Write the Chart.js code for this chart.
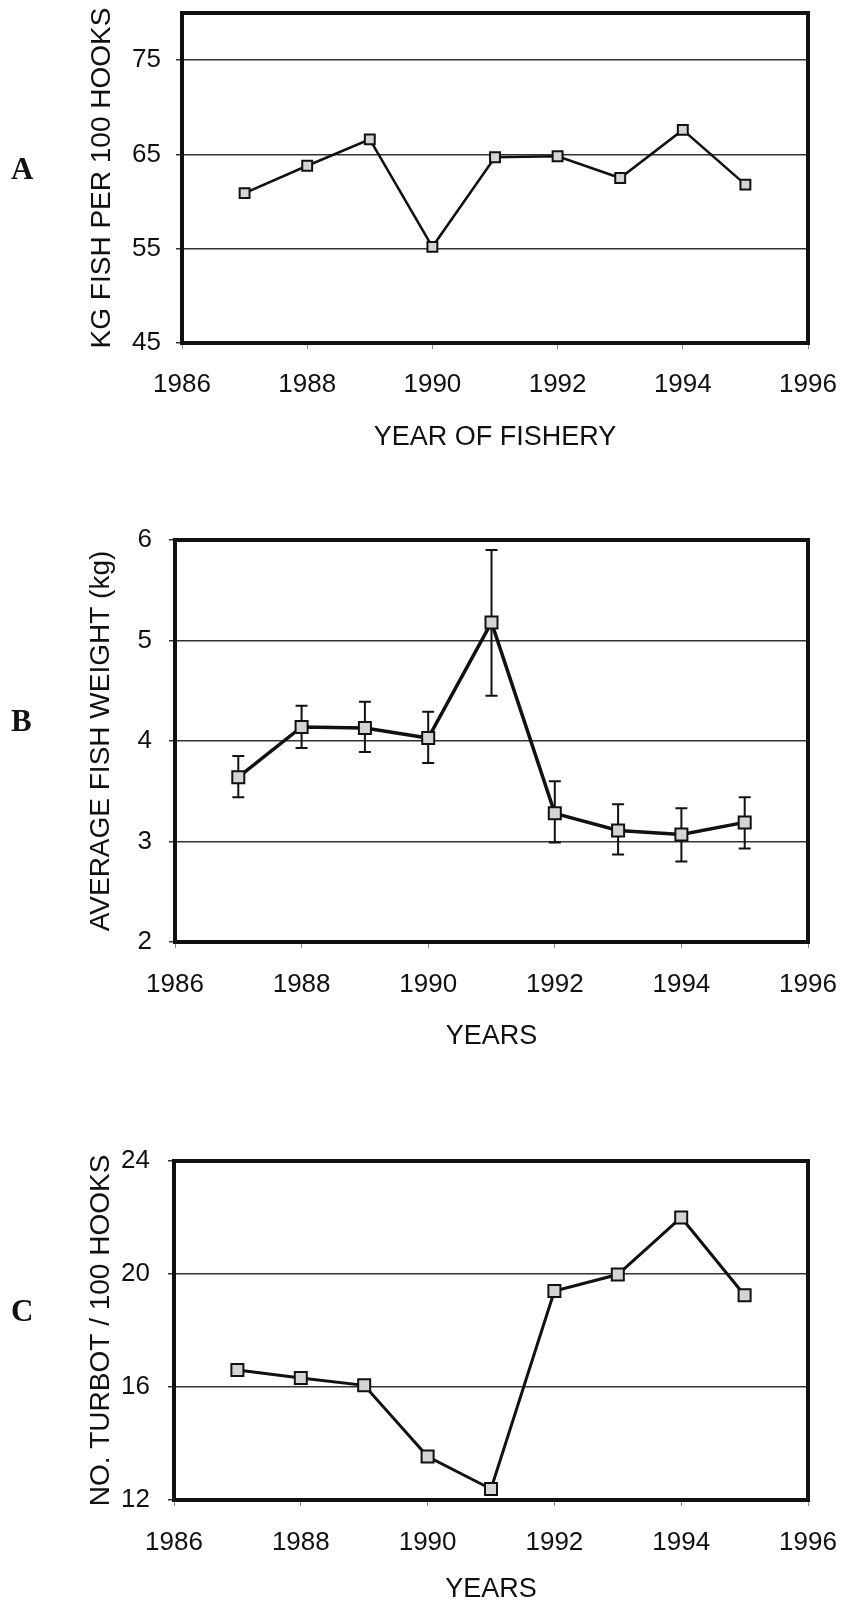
<!DOCTYPE html>
<html>
<head>
<meta charset="utf-8">
<title>Turbot longline fishery 1987-1995</title>
<script src="https://cdn.jsdelivr.net/npm/chart.js@4.4.1/dist/chart.umd.min.js"></script>
<style>
  body { margin: 0; background: #fff; }
  #page { position: relative; width: 847px; height: 1606px; overflow: hidden; background: #fff; }
  #page canvas { position: absolute; left: 0; }
  .panel-letter {
    position: absolute;
    font-family: "Liberation Serif", "DejaVu Serif", serif;
    font-weight: bold;
    font-size: 31px;
    line-height: 31px;
    color: #111;
  }
</style>
</head>
<body>
<div id="page">
  <canvas id="chartA" width="847" height="470" style="top:0px"></canvas>
  <canvas id="chartB" width="847" height="590" style="top:470px"></canvas>
  <canvas id="chartC" width="847" height="546" style="top:1060px"></canvas>
  <div class="panel-letter" style="left:11px; top:153px">A</div>
  <div class="panel-letter" style="left:11px; top:705px">B</div>
  <div class="panel-letter" style="left:11px; top:1295px">C</div>
</div>

<script>
// Data
const years = [1987, 1988, 1989, 1990, 1991, 1992, 1993, 1994, 1995];
const xTicks = [1986, 1988, 1990, 1992, 1994, 1996];

// A - kg fish per 100 hooks
const kgPer100A = [60.9, 63.8, 66.6, 55.2, 64.7, 64.8, 62.5, 67.6, 61.8];
const yTicksA = [45, 55, 65, 75];

// B - average fish weight with error bars
const weightB = [3.64, 4.14, 4.13, 4.03, 5.18, 3.28, 3.11, 3.07, 3.19];
const weightLowB = [3.44, 3.93, 3.89, 3.78, 4.45, 2.99, 2.87, 2.80, 2.93];
const weightHighB = [3.85, 4.35, 4.39, 4.29, 5.90, 3.60, 3.37, 3.33, 3.44];
const yTicksB = [2, 3, 4, 5, 6];

// C - number of turbot per 100 hooks
const turbotC = [16.6, 16.32, 16.06, 13.54, 12.39, 19.4, 19.98, 22.0, 19.25];
const yTicksC = [12, 16, 20, 24];

const fontFamily = '"Liberation Sans", Arial, sans-serif';
const inkColor = "#111";

// Thick box round the plot area
const framePlugin = {
  id: "frame",
  afterDraw(chart) {
    const { ctx, chartArea } = chart;
    ctx.save();
    ctx.strokeStyle = inkColor;
    ctx.lineWidth = 4;
    ctx.strokeRect(chartArea.left, chartArea.top, chartArea.right - chartArea.left, chartArea.bottom - chartArea.top);
    ctx.restore();
  },
};

// Vertical error bars with caps, drawn through the chart scales
const errorBarPlugin = {
  id: "errorBars",
  beforeDatasetsDraw(chart, args, opts) {
    if (!opts || !opts.low) return;
    const { ctx } = chart;
    const x = chart.scales.x;
    const y = chart.scales.y;
    ctx.save();
    ctx.strokeStyle = inkColor;
    ctx.lineWidth = 2;
    years.forEach((yr, i) => {
      const px = x.getPixelForValue(yr);
      const top = y.getPixelForValue(opts.high[i]);
      const bot = y.getPixelForValue(opts.low[i]);
      ctx.beginPath();
      ctx.moveTo(px, top);
      ctx.lineTo(px, bot);
      ctx.moveTo(px - 6, top);
      ctx.lineTo(px + 6, top);
      ctx.moveTo(px - 6, bot);
      ctx.lineTo(px + 6, bot);
      ctx.stroke();
    });
    ctx.restore();
  },
};

function createPanel(canvasId, cfg) {
  const points = years.map((yr, i) => ({ x: yr, y: cfg.values[i] }));

  return new Chart(document.getElementById(canvasId), {
    type: "line",
    data: {
      datasets: [
        {
          data: points,
          borderColor: inkColor,
          borderWidth: cfg.lineWidth,
          tension: 0,
          pointStyle: "rect",
          pointRadius: cfg.pointRadius,
          pointBackgroundColor: "#d4d4d4",
          pointBorderColor: inkColor,
          pointBorderWidth: 2,
        },
      ],
    },
    options: {
      responsive: false,
      animation: false,
      layout: { padding: { top: cfg.padTop, right: 39, left: 0, bottom: 0 } },
      plugins: {
        legend: { display: false },
        tooltip: { enabled: false },
        errorBars: cfg.errors || {},
      },
      scales: {
        x: {
          type: "linear",
          min: 1986,
          max: 1996,
          afterBuildTicks: (scale) => {
            scale.ticks = xTicks.map((v) => ({ value: v }));
          },
          afterFit: (scale) => {
            // fixed axis height, and no extra side padding for the end labels
            scale.height = cfg.xAxisHeight;
            scale.paddingLeft = 0;
            scale.paddingRight = 0;
          },
          ticks: {
            padding: cfg.xTickPad,
            color: inkColor,
            maxRotation: 0,
            autoSkip: false,
            font: { family: fontFamily, size: 26 },
            callback: (v) => String(v),
          },
          grid: { drawOnChartArea: false, drawTicks: true, tickLength: 6, color: "#888", lineWidth: 1 },
          border: { display: false },
          title: {
            display: true,
            text: cfg.xTitle,
            color: inkColor,
            font: { family: fontFamily, size: 27 },
            padding: { top: 0, bottom: cfg.xTitlePad },
          },
        },
        y: {
          min: cfg.yMin,
          max: cfg.yMax,
          afterBuildTicks: (scale) => {
            scale.ticks = cfg.yTicks.map((v) => ({ value: v }));
          },
          afterFit: (scale) => {
            // fixed axis width, plot top comes from layout padding only
            scale.width = cfg.plotLeft;
            scale.paddingTop = 0;
            scale.paddingBottom = 0;
          },
          ticks: {
            padding: cfg.yTickPad,
            color: inkColor,
            font: { family: fontFamily, size: 26 },
            callback: (v) => String(v),
          },
          grid: { color: "#333", lineWidth: 1.5, tickLength: 6 },
          border: { display: false },
          title: {
            display: true,
            text: cfg.yTitle,
            color: inkColor,
            font: { family: fontFamily, size: 28 },
            padding: { top: cfg.yTitlePad, bottom: 0 },
          },
        },
      },
    },
    plugins: [framePlugin, errorBarPlugin],
  });
}

createPanel("chartA", {
  values: kgPer100A,
  yMin: 45,
  yMax: 80,
  yTicks: yTicksA,
  yTitle: "KG FISH PER 100 HOOKS",
  xTitle: "YEAR OF FISHERY",
  padTop: 13,
  plotLeft: 182,
  xAxisHeight: 127,
  xTickPad: 20,
  xTitlePad: 16,
  yTickPad: 15,
  yTitlePad: 85,
  lineWidth: 2.5,
  pointRadius: 7,
});

createPanel("chartB", {
  values: weightB,
  errors: { low: weightLowB, high: weightHighB },
  yMin: 2,
  yMax: 6,
  yTicks: yTicksB,
  yTitle: "AVERAGE FISH WEIGHT (kg)",
  xTitle: "YEARS",
  padTop: 70,
  plotLeft: 175,
  xAxisHeight: 118,
  xTickPad: 21,
  xTitlePad: 7,
  yTickPad: 17,
  yTitlePad: 84,
  lineWidth: 3.5,
  pointRadius: 8.5,
});

createPanel("chartC", {
  values: turbotC,
  yMin: 12,
  yMax: 24,
  yTicks: yTicksC,
  yTitle: "NO. TURBOT / 100 HOOKS",
  xTitle: "YEARS",
  padTop: 101,
  plotLeft: 174,
  xAxisHeight: 106,
  xTickPad: 21,
  xTitlePad: 0,
  yTickPad: 18,
  yTitlePad: 84,
  lineWidth: 3,
  pointRadius: 8.5,
});
</script>
</body>
</html>
